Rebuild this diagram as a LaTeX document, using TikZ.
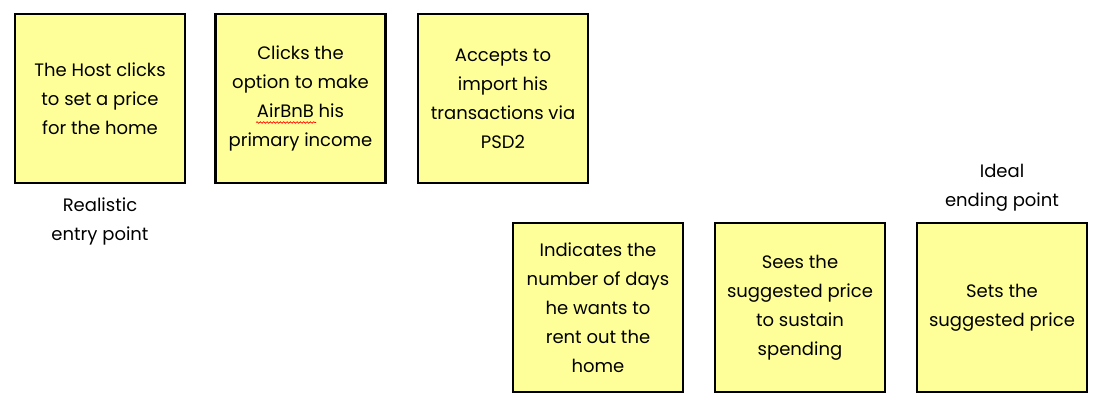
\documentclass[tikz,border=0pt]{standalone}
\usepackage{fontspec}
\setmainfont{Poppins}
\usetikzlibrary{decorations.pathmorphing}
\begin{document}
\begin{tikzpicture}[x=0.75pt,y=-0.75pt,
  note/.style={draw=black, line width=1.6pt, fill=noteyellow, minimum width=127.5pt, minimum height=126.75pt, inner sep=0pt, align=center, font=\fontsize{13.5}{21.75}\selectfont},
  lbl/.style={align=center, font=\fontsize{13.5}{21.75}\selectfont}]
\definecolor{noteyellow}{HTML}{FFFF99}
\useasboundingbox (0,0) rectangle (1099,407);
\node[note] (n1) at (100,98.5) {The Host clicks\\to set a price\\for the home};
\node[note] (n2) at (300.5,98.5) {Clicks the\\option to make\\AirBnB his\\primary income};
\node[note] (n3) at (503,98.5) {Accepts to\\import his\\transactions via\\PSD2};
\node[note] (n4) at (598,307.5) {Indicates the\\number of days\\he wants to\\rent out the\\home};
\node[note] (n5) at (800,307.5) {Sees the\\suggested price\\to sustain\\spending};
\node[note] (n6) at (1002,307.5) {Sets the\\suggested price};
\node[lbl] (l1) at (100,221.5) {Realistic\\entry point};
\node[lbl] (l2) at (1002,187.5) {Ideal\\ending point};
\coordinate (w1) at (256,122.5);
\coordinate (w2) at (316,122.5);
\draw[red, line width=0.5pt, decorate, decoration={snake, amplitude=0.6pt, segment length=2.5pt}] (w1) -- (w2);
\end{tikzpicture}
\end{document}
